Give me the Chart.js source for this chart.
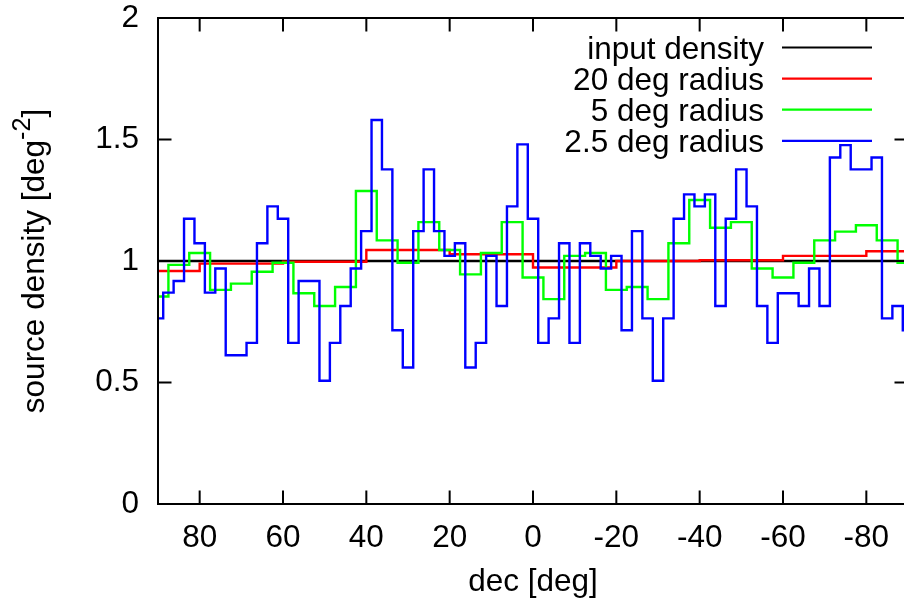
<!DOCTYPE html>
<html>
<head>
<meta charset="utf-8">
<script src="https://cdn.jsdelivr.net/npm/chart.js@4.4.1/dist/chart.umd.min.js"></script>
<style>
  html, body { margin: 0; padding: 0; background: #fff; overflow: hidden; }
</style>
</head>
<body>
<canvas id="chart" width="912" height="602"></canvas>
<script>
// tick labels
const xTicks = [80, 60, 40, 20, 0, -20, -40, -60, -80];
const yTicks = [0, 0.5, 1, 1.5, 2];

// input density (flat)
const inputDec = [90, -90];
const inputDensity = [1, 1];

// 20 deg radius, one value per 20 deg bin
const dec20 = [90, 70, 50, 30, 10, -10, -30, -50, -70, -90];
const density20 = [0.959, 0.989, 0.997, 1.045, 1.028, 0.973, 1.000, 1.003, 1.021, 1.040];

// 5 deg radius, one value per 5 deg bin, dec 90 .. -90
const density5 = [0.854, 0.984, 1.033, 0.881, 0.907, 0.956, 0.993, 0.867, 0.815, 0.893,
                  1.288, 1.085, 0.993, 1.160, 1.045, 0.945, 1.033, 1.160, 0.932, 0.843,
                  1.021, 1.033, 0.881, 0.893, 0.843, 1.073, 1.251, 1.137, 1.160, 0.969,
                  0.932, 0.993, 1.085, 1.121, 1.147, 1.085, 0.993];

// 2.5 deg radius, one value per 2.5 deg bin, dec 90 .. -90
const density2p5 = [0.764, 0.870, 0.918, 1.174, 1.073, 0.870, 0.969, 0.612, 0.612, 0.663,
                    1.073, 1.225, 1.174, 0.663, 0.918, 0.918, 0.507, 0.663, 0.815, 0.969,
                    1.123, 1.580, 1.377, 0.715, 0.562, 1.123, 1.377, 1.123, 1.021, 1.073,
                    0.562, 0.663, 1.021, 0.815, 1.225, 1.480, 1.174, 0.663, 0.764, 1.073,
                    0.663, 1.073, 1.021, 0.969, 1.021, 0.715, 1.123, 0.764, 0.507, 0.764,
                    1.174, 1.274, 1.225, 1.274, 0.815, 1.174, 1.377, 1.225, 0.815, 0.663,
                    0.867, 0.867, 0.815, 0.969, 0.815, 1.426, 1.477, 1.377, 1.377, 1.426,
                    0.764, 0.815, 0.715];

const FONT = 'Liberation Sans, Arial, sans-serif';
const FS = 31.5;

// bin centres going from +90 down
function bins(step, n) {
  const out = [];
  for (let i = 0; i < n; i++) out.push(90 - step * i);
  return out;
}
function pts(xs, ys) {
  return ys.map((y, i) => ({ x: xs[i], y: y }));
}

const dec5 = bins(5, density5.length);
const dec2p5 = bins(2.5, density2p5.length);

// gnuplot style frame with inward ticks on all four sides
const frame = {
  id: 'frame',
  afterDatasetsDraw(chart) {
    const { ctx, chartArea: a, scales } = chart;
    const tl = 13.5;
    ctx.save();
    ctx.strokeStyle = '#000';
    ctx.lineWidth = 2;
    ctx.beginPath();
    scales.x.ticks.forEach(t => {
      const px = scales.x.getPixelForValue(t.value);
      ctx.moveTo(px, a.bottom); ctx.lineTo(px, a.bottom - tl);
      ctx.moveTo(px, a.top); ctx.lineTo(px, a.top + tl);
    });
    scales.y.ticks.forEach(t => {
      const py = scales.y.getPixelForValue(t.value);
      ctx.moveTo(a.left, py); ctx.lineTo(a.left + tl, py);
      ctx.moveTo(a.right, py); ctx.lineTo(a.right - tl, py);
    });
    ctx.stroke();
    ctx.strokeRect(a.left, a.top, a.right - a.left, a.bottom - a.top);
    ctx.restore();
  }
};

// key in the top right corner: text first, then line sample
const key = {
  id: 'key',
  afterDraw(chart) {
    const { ctx } = chart;
    ctx.save();
    ctx.font = FS + 'px ' + FONT;
    ctx.textAlign = 'right';
    ctx.textBaseline = 'alphabetic';
    chart.data.datasets.forEach((ds, i) => {
      const y = 47.5 + i * 31.1;
      ctx.fillStyle = '#000';
      ctx.fillText(ds.label, 764, y + 11.5);
      ctx.strokeStyle = ds.borderColor;
      ctx.lineWidth = 2.2;
      ctx.beginPath();
      ctx.moveTo(782, y);
      ctx.lineTo(872, y);
      ctx.stroke();
    });
    ctx.restore();
  }
};

// y title with superscript
const yTitle = {
  id: 'yTitle',
  afterDraw(chart) {
    const { ctx, chartArea: a } = chart;
    const main = 'source density [deg', sup = '-2', tail = ']';
    const small = FS * 0.8;
    ctx.save();
    ctx.translate(43.5, (a.top + a.bottom) / 2);
    ctx.rotate(-Math.PI / 2);
    ctx.fillStyle = '#000';
    ctx.textAlign = 'left';
    ctx.textBaseline = 'alphabetic';
    ctx.font = FS + 'px ' + FONT;
    const w1 = ctx.measureText(main).width;
    const w3 = ctx.measureText(tail).width;
    ctx.font = small + 'px ' + FONT;
    const w2 = ctx.measureText(sup).width;
    let x = -(w1 + w2 + w3) / 2;
    ctx.font = FS + 'px ' + FONT;
    ctx.fillText(main, x, 0);
    x += w1;
    ctx.font = small + 'px ' + FONT;
    ctx.fillText(sup, x, -14);
    x += w2;
    ctx.font = FS + 'px ' + FONT;
    ctx.fillText(tail, x, 0);
    ctx.restore();
  }
};

const ctx = document.getElementById('chart');

new Chart(ctx, {
  type: 'line',
  data: {
    datasets: [
      { label: 'input density', data: pts(inputDec, inputDensity), borderColor: '#000000', order: 3 },
      { label: '20 deg radius', data: pts(dec20, density20), borderColor: '#ff0000', stepped: 'middle', order: 2 },
      { label: '5 deg radius', data: pts(dec5, density5), borderColor: '#00ff00', stepped: 'middle', order: 1 },
      { label: '2.5 deg radius', data: pts(dec2p5, density2p5), borderColor: '#0000ff', stepped: 'middle', order: 0 }
    ]
  },
  options: {
    responsive: false,
    animation: false,
    layout: { padding: { left: 0, right: 4, top: 18, bottom: 0 } },
    elements: {
      point: { radius: 0 },
      line: { borderWidth: 2.4, tension: 0, fill: false }
    },
    plugins: {
      legend: { display: false },
      tooltip: { enabled: false }
    },
    scales: {
      x: {
        type: 'linear',
        min: -90,
        max: 90,
        reverse: true,
        afterFit: s => { s.height = 98; s.paddingLeft = 0; s.paddingRight = 0; },
        afterBuildTicks: s => { s.ticks = xTicks.map(v => ({ value: v })); },
        grid: { display: false, drawTicks: false },
        border: { display: false },
        ticks: { padding: 15, color: '#000', maxRotation: 0, autoSkip: false, font: { family: FONT, size: FS } },
        title: { display: true, text: 'dec [deg]', color: '#000', padding: { top: 0, bottom: 1 }, font: { family: FONT, size: FS } }
      },
      y: {
        type: 'linear',
        min: 0,
        max: 2,
        afterFit: s => { s.width = 158; s.paddingTop = 0; s.paddingBottom = 0; },
        afterBuildTicks: s => { s.ticks = yTicks.map(v => ({ value: v })); },
        grid: { display: false, drawTicks: false },
        border: { display: false },
        ticks: { padding: 19, color: '#000', font: { family: FONT, size: FS }, callback: v => String(v) }
      }
    }
  },
  plugins: [frame, key, yTitle]
});
</script>
</body>
</html>
